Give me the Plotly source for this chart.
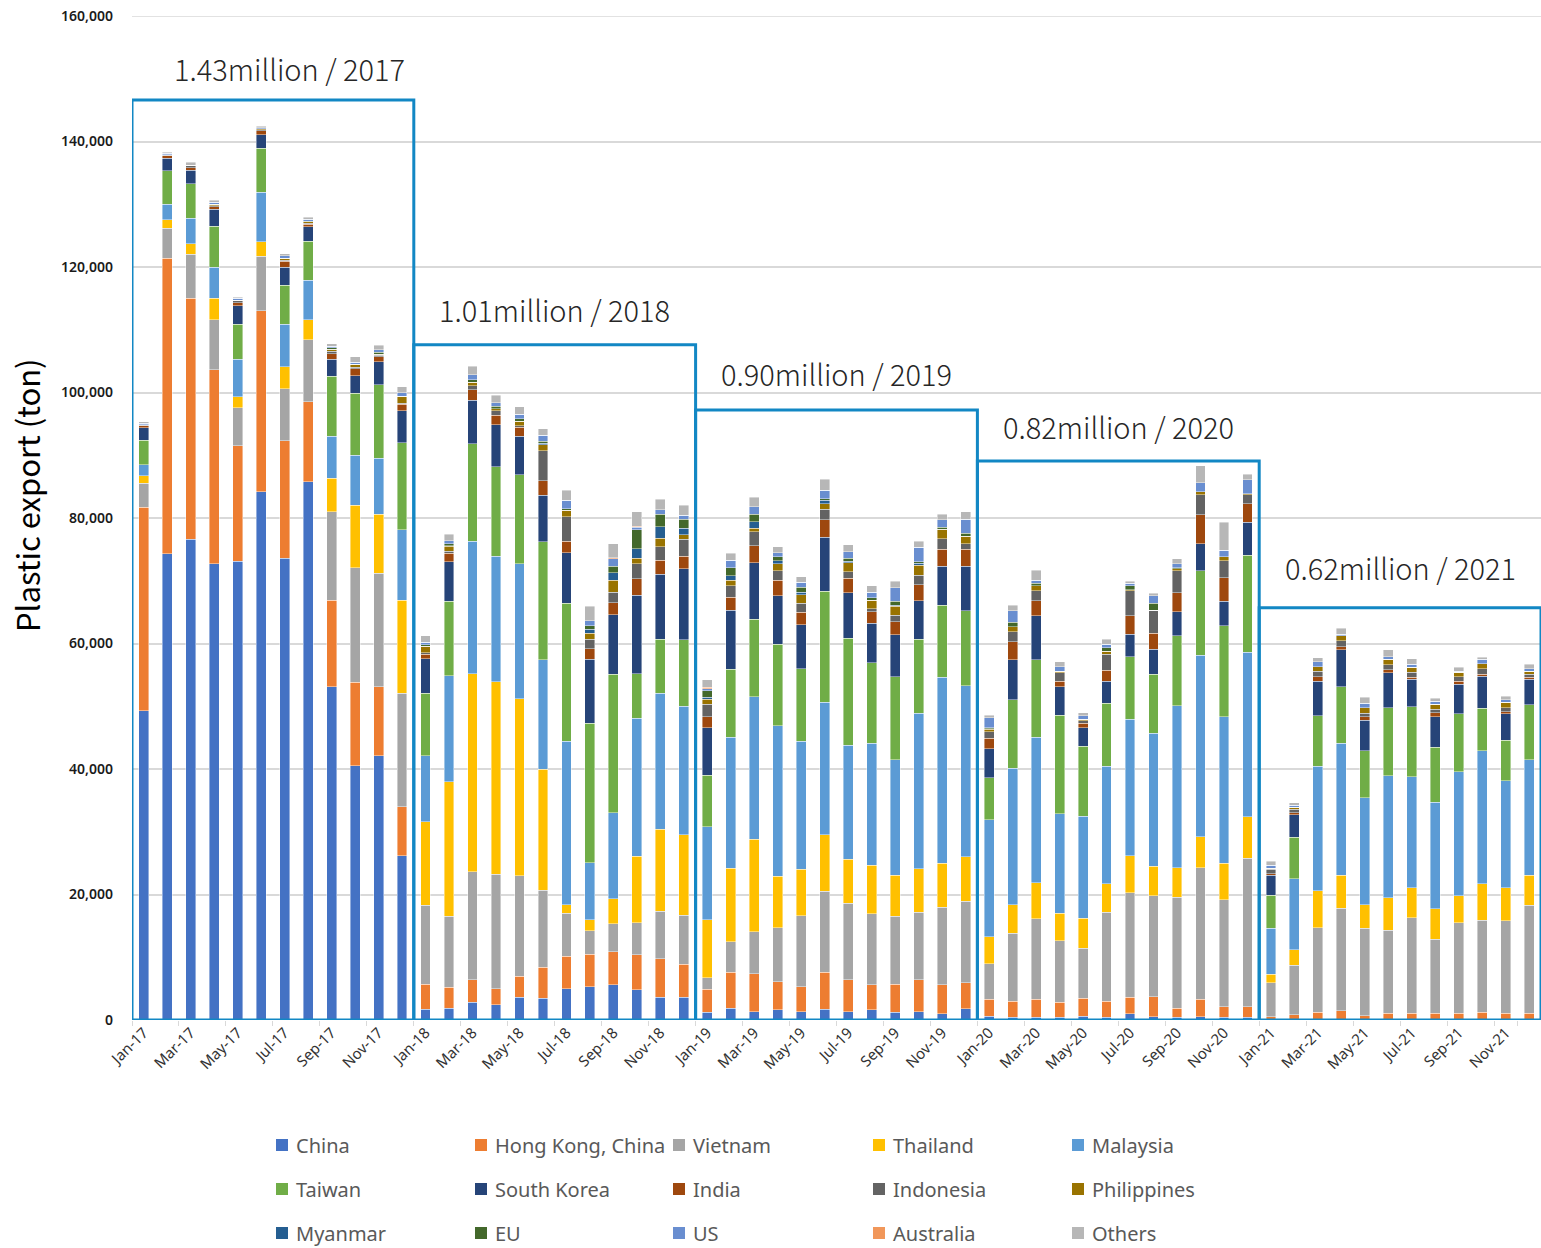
import plotly.graph_objects as go

months = [f"{m}-{y}" for y in ["17", "18", "19", "20", "21"]
          for m in ["Jan", "Feb", "Mar", "Apr", "May", "Jun", "Jul", "Aug", "Sep", "Oct", "Nov", "Dec"]]

# values in thousand tons
china = [49.3, 74.3, 76.6, 72.7, 73.1, 84.2, 73.6, 85.8, 53.1, 40.5, 42.1, 26.2,
         1.7, 1.9, 2.8, 2.4, 3.6, 3.5, 5.0, 5.3, 5.6, 4.8, 3.6, 3.6,
         1.2, 1.9, 1.3, 1.6, 1.3, 1.7, 1.3, 1.6, 1.2, 1.3, 1.0, 1.8,
         0.6, 0.4, 0.4, 0.4, 0.6, 0.4, 1.0, 0.5, 0.4, 0.5, 0.4, 0.4,
         0, 0, 0, 0, 0, 0, 0, 0, 0, 0, 0, 0]
hongkong = [32.4, 47.1, 38.4, 30.9, 18.4, 28.8, 18.7, 12.7, 13.8, 13.3, 11.0, 7.8,
            4.0, 3.3, 3.6, 2.6, 3.4, 4.9, 5.2, 5.2, 5.3, 5.6, 6.2, 5.3,
            3.7, 5.7, 6.1, 4.5, 4.0, 5.9, 5.1, 4.0, 4.5, 5.1, 4.6, 4.1,
            2.7, 2.6, 2.9, 2.4, 2.9, 2.6, 2.6, 3.2, 1.5, 2.8, 1.7, 1.7,
            0.5, 0.8, 1.2, 1.5, 0.7, 1.1, 1.1, 1.1, 1.1, 1.2, 1.1, 1.1]
vietnam = [3.8, 4.8, 7.0, 8.0, 6.1, 8.7, 8.3, 9.9, 14.1, 18.3, 18.1, 18.1,
           12.6, 11.3, 17.2, 18.2, 16.0, 12.3, 6.8, 3.7, 4.4, 5.1, 7.5, 7.8,
           1.8, 4.9, 6.7, 8.6, 11.3, 12.9, 12.2, 11.3, 10.8, 10.8, 12.4, 13.0,
           5.7, 10.8, 12.8, 9.8, 7.9, 14.2, 16.7, 16.1, 17.7, 21.0, 17.1, 23.7,
           5.4, 7.9, 13.5, 16.3, 13.9, 13.2, 15.2, 11.8, 14.4, 14.7, 14.7, 17.2]
thailand = [1.2, 1.3, 1.7, 3.4, 1.7, 2.3, 3.5, 3.2, 5.3, 9.9, 9.4, 14.8,
            13.3, 21.5, 31.6, 30.7, 28.2, 19.3, 1.4, 1.8, 4.0, 10.6, 13.1, 12.8,
            9.3, 11.7, 14.7, 8.2, 7.4, 9.0, 7.0, 7.8, 6.6, 6.9, 7.0, 7.1,
            4.3, 4.6, 5.8, 4.4, 4.8, 4.5, 5.9, 4.7, 4.7, 4.9, 5.8, 6.6,
            1.4, 2.5, 5.9, 5.3, 3.8, 5.2, 4.8, 4.8, 4.3, 5.8, 5.3, 4.8]
malaysia = [1.8, 2.5, 4.1, 5.0, 6.0, 7.9, 6.8, 6.3, 6.7, 8.0, 8.9, 11.2,
            10.5, 16.9, 21.1, 20.0, 21.5, 17.4, 26.0, 9.1, 13.7, 22.0, 21.7, 20.5,
            14.8, 20.9, 22.7, 24.0, 20.4, 21.1, 18.2, 19.4, 18.4, 24.8, 29.6, 27.3,
            18.6, 21.7, 23.2, 15.9, 16.3, 18.7, 21.7, 21.2, 25.8, 28.9, 23.3, 26.2,
            7.3, 11.3, 19.8, 21.0, 17.0, 19.4, 17.7, 17.0, 19.8, 21.2, 17.0, 18.4]
taiwan = [3.9, 5.3, 5.5, 6.5, 5.6, 7.0, 6.2, 6.2, 9.6, 9.9, 11.7, 13.9,
          10.0, 11.8, 15.5, 14.3, 14.2, 18.8, 22.0, 22.2, 22.1, 7.1, 8.6, 10.6,
          8.2, 10.8, 12.4, 13.0, 11.6, 17.7, 17.0, 12.8, 13.2, 11.8, 11.5, 11.9,
          6.7, 10.9, 12.3, 15.7, 11.1, 10.1, 10.0, 9.4, 11.1, 13.5, 14.5, 15.5,
          5.3, 6.6, 8.1, 9.0, 7.5, 10.9, 11.1, 8.8, 9.2, 6.8, 6.5, 8.7]
south_korea = [2.0, 2.0, 2.1, 2.7, 2.9, 2.2, 2.9, 2.3, 2.7, 2.8, 3.7, 5.1,
               5.5, 6.3, 7.0, 6.7, 6.1, 7.4, 8.1, 10.2, 9.5, 12.5, 10.3, 11.3,
               7.6, 9.4, 9.0, 7.7, 7.0, 8.6, 7.3, 6.3, 6.7, 6.1, 6.2, 7.1,
               4.6, 6.4, 7.0, 4.5, 3.0, 3.5, 3.6, 4.0, 3.9, 4.3, 3.9, 5.2,
               3.2, 3.6, 5.5, 5.9, 4.9, 5.5, 4.4, 4.8, 4.7, 5.1, 4.2, 4.1]
india = [0.3, 0.4, 0.4, 0.4, 0.5, 0.6, 0.9, 0.4, 0.9, 1.1, 0.8, 1.0,
         0.7, 1.4, 1.6, 1.5, 1.5, 2.3, 1.8, 1.7, 1.9, 2.6, 2.3, 2.0,
         1.7, 2.1, 2.7, 2.5, 2.0, 2.8, 2.3, 1.9, 2.1, 2.6, 2.7, 2.7,
         1.7, 2.9, 2.4, 0.9, 0.7, 1.7, 2.9, 2.5, 3.0, 4.6, 3.8, 3.0,
         0.2, 0.3, 0.7, 0.5, 0.5, 0.5, 0.3, 0.7, 0.5, 0.3, 0.3, 0.3]
indonesia = [0.1, 0.1, 0.3, 0.2, 0.3, 0.2, 0.2, 0.2, 0.4, 0.2, 0.2, 0.2,
             0.2, 0.3, 0.7, 0.7, 0.2, 4.8, 3.9, 1.5, 1.7, 2.4, 2.1, 2.7,
             2.0, 1.8, 2.2, 1.5, 1.4, 1.7, 1.0, 0.4, 1.0, 1.5, 1.7, 0.9,
             1.0, 1.6, 1.6, 1.3, 0.4, 2.6, 4.0, 3.7, 3.5, 3.2, 2.7, 1.4,
             0.7, 0.6, 0.9, 0.9, 0.6, 0.8, 0.8, 0.5, 0.7, 0.9, 0.7, 0.5]
philippines = [0.1, 0.1, 0.1, 0.2, 0.1, 0.1, 0.3, 0.2, 0.3, 0.5, 0.2, 1.1,
               1.1, 0.8, 0.5, 0.3, 0.7, 1.0, 1.0, 0.9, 1.9, 0.9, 1.4, 0.7,
               0.8, 0.9, 0.6, 1.1, 1.4, 0.9, 1.5, 1.4, 1.4, 1.6, 1.5, 1.2,
               0.4, 0.8, 0.8, 0.3, 0.2, 0.5, 0.2, 0.0, 0.3, 0.5, 0.6, 0.2,
               0.2, 0.3, 0.7, 0.8, 0.9, 0.9, 0.8, 0.8, 0.7, 0.8, 0.8, 0.5]
myanmar = [0, 0, 0, 0, 0, 0, 0, 0, 0, 0, 0, 0,
           0, 0.1, 0, 0, 0, 0.2, 0, 0.7, 1.2, 1.5, 1.8, 1.1,
           0.3, 0.7, 1.0, 0.5, 0.4, 0.5, 0.2, 0, 0.2, 0.3, 0, 0,
           0.1, 0, 0, 0, 0, 0, 0, 0, 0, 0, 0, 0,
           0, 0, 0, 0, 0, 0, 0, 0, 0, 0, 0, 0]
eu = [0, 0, 0, 0, 0, 0, 0, 0.1, 0.2, 0, 0.3, 0,
      0.2, 0.3, 0.4, 0.4, 0.4, 0.3, 0.3, 0.5, 1.0, 3.0, 2.0, 1.4,
      1.1, 1.3, 1.2, 0.6, 0.8, 0.3, 0.5, 0.4, 0.6, 0.2, 0.3, 0.5,
      0.2, 0.7, 0.4, 0, 0, 0.5, 0.6, 1.1, 0.2, 0, 0, 0,
      0, 0, 0, 0, 0, 0, 0, 0, 0, 0, 0, 0]
us = [0.2, 0.2, 0.0, 0.3, 0.3, 0.2, 0.4, 0.3, 0.3, 0.3, 0.4, 0.6,
      0.4, 0.5, 0.8, 0.6, 0.7, 1.0, 1.3, 0.8, 1.2, 0.4, 0.7, 0.6,
      0.3, 1.2, 1.2, 0.7, 0.8, 1.3, 1.0, 0.9, 2.2, 2.3, 1.2, 2.2,
      1.6, 1.8, 0.5, 0.7, 0.6, 0.6, 0.4, 1.2, 0.6, 1.4, 1.1, 2.2,
      0.5, 0.3, 0.8, 0.3, 0.7, 0.4, 0.5, 0.5, 0.2, 0.7, 0.4, 0.4]
australia = [0, 0, 0, 0, 0, 0, 0, 0, 0, 0, 0, 0,
             0, 0, 0, 0, 0, 0, 0, 0, 0.2, 0.2, 0, 0,
             0.2, 0, 0, 0, 0, 0, 0, 0, 0, 0, 0, 0,
             0, 0, 0, 0, 0, 0, 0, 0, 0, 0, 0, 0,
             0, 0, 0, 0, 0, 0, 0, 0, 0, 0, 0, 0]
others = [0.2, 0.2, 0.5, 0.3, 0.2, 0.2, 0.3, 0.3, 0.4, 0.9, 0.7, 0.9,
          1.0, 1.0, 1.4, 1.2, 1.2, 1.0, 1.6, 2.3, 2.2, 2.3, 1.7, 1.6,
          1.2, 1.1, 1.5, 0.9, 0.8, 1.8, 1.1, 1.0, 1.0, 1.0, 0.9, 1.2,
          0.4, 0.9, 1.6, 0.8, 0.5, 0.8, 0.3, 0.4, 0.8, 2.7, 4.4, 0.9,
          0.6, 0.4, 0.6, 0.9, 0.9, 1.1, 0.9, 0.5, 0.6, 0.3, 0.6, 0.7]

series_names = ["China", "Hong Kong, China", "Vietnam", "Thailand", "Malaysia",
                "Taiwan", "South Korea", "India", "Indonesia", "Philippines",
                "Myanmar", "EU", "US", "Australia", "Others"]
series_values = [china, hongkong, vietnam, thailand, malaysia, taiwan, south_korea,
                 india, indonesia, philippines, myanmar, eu, us, australia, others]
colors = ["#4472C4", "#ED7D31", "#A5A5A5", "#FFC000", "#5B9BD5",
          "#70AD47", "#264478", "#9E480E", "#636363", "#997300",
          "#255E91", "#43682B", "#698ED0", "#F1975A", "#B7B7B7"]

box_labels = ["1.43million / 2017", "1.01million / 2018", "0.90million / 2019",
              "0.82million / 2020", "0.62million / 2021"]
box_tops = [146.6, 107.6, 97.2, 89.1, 65.7]
label_y = [151.7, 113.3, 103.1, 94.7, 72.2]
label_x = [6.2, 17.5, 29.5, 41.5, 53.5]

# figure geometry (pixels)
W, H = 1541, 1248
ML, MR, MT, MB = 132, 0, 16, 228
PW, PH = W - ML - MR, H - MT - MB

def px_x(p):
    return (p - ML) / PW

def px_y(p):
    return (H - MB - p) / PH

fig = go.Figure()
for name, vals, col in zip(series_names, series_values, colors):
    fig.add_trace(go.Bar(
        x=months, y=vals, name=name,
        marker=dict(color=col, line=dict(width=0.6, color="rgba(255,255,255,0.7)")),
    ))

box_color = "#1287C4"
for k in range(5):
    fig.add_shape(type="rect", xref="x", yref="y", x0=12 * k - 0.5, x1=12 * k + 11.5,
                  y0=0, y1=box_tops[k],
                  line=dict(color=box_color, width=3), fillcolor="rgba(0,0,0,0)", layer="above")
    fig.add_annotation(x=label_x[k], y=label_y[k], xref="x", yref="y",
                       text=box_labels[k], showarrow=False,
                       font=dict(size=29, color="#262626", family="Noto Sans CJK JP", weight=300))

# top gridline (plotly omits grid at the range edge)
fig.add_shape(type="line", xref="paper", yref="y", x0=0, x1=1, y0=160, y1=160,
              line=dict(color="#D9D9D9", width=1.5), layer="below")

# y-axis title
fig.add_annotation(x=px_x(26), y=px_y(495), xref="paper", yref="paper", text="Plastic export (ton)",
                   textangle=-90, showarrow=False, xanchor="center", yanchor="middle",
                   font=dict(size=31, color="#000000", family="Noto Sans CJK JP"))

# legend (3 rows x 5 columns) drawn as squares + text
leg_col_px = [276, 475, 673, 873, 1072]
leg_row_px = [1145, 1189, 1233]
for i, (name, col) in enumerate(zip(series_names, colors)):
    cx = leg_col_px[i % 5]
    cy = leg_row_px[i // 5]
    fig.add_shape(type="rect", xref="paper", yref="paper",
                  x0=px_x(cx), x1=px_x(cx + 12), y0=px_y(cy + 6), y1=px_y(cy - 6),
                  fillcolor=col, line=dict(width=0))
    fig.add_annotation(x=px_x(cx + 18), y=px_y(cy), xref="paper", yref="paper",
                       text=name, showarrow=False, xanchor="left", yanchor="middle",
                       font=dict(size=20, color="#595959", family="Noto Sans"))

tick_vals = [0, 20, 40, 60, 80, 100, 120, 140, 160]
tick_text = ["0", "20,000", "40,000", "60,000", "80,000", "100,000", "120,000", "140,000", "160,000"]

fig.update_layout(
    width=W, height=H,
    margin=dict(l=ML, r=MR, t=MT, b=MB),
    barmode="stack", bargap=0.58, showlegend=False,
    plot_bgcolor="white", paper_bgcolor="white",
    font=dict(family="Noto Sans", color="#333333"),
    xaxis=dict(type="category", tickmode="array", tickvals=months[::2], ticktext=months[::2],
               tickangle=-45, tickfont=dict(size=15, color="#333333"),
               ticks="outside", ticklen=5, tickcolor="#D9D9D9", tickson="boundaries",
               showgrid=False, showline=False, range=[-0.5, 59.5], automargin=False),
    yaxis=dict(range=[0, 160], tickvals=tick_vals, ticktext=tick_text,
               tickfont=dict(size=14, color="#1a1a1a", weight=600), showgrid=True,
               gridcolor="#D9D9D9", gridwidth=1.5, zeroline=False, showline=False,
               ticklabelstandoff=18, ticklabeloverflow="allow", automargin=False),
)

fig.write_html(
    "out.html",
    config={"displayModeBar": False},
    post_script="document.documentElement.style.margin='0';document.body.style.margin='0';"
                "document.documentElement.style.overflow='hidden';document.body.style.overflow='hidden';",
)
